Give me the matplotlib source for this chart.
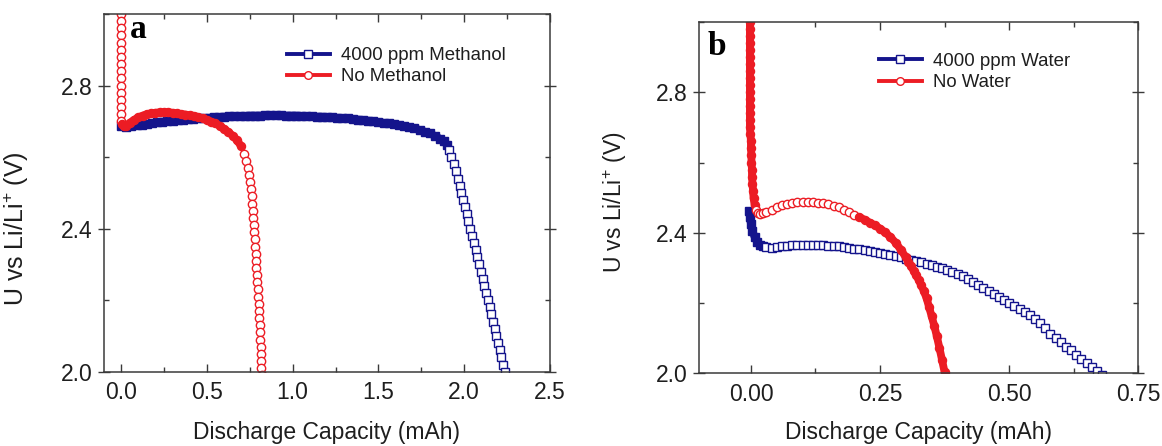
import matplotlib
matplotlib.use("Agg")
import matplotlib.pyplot as plt
from matplotlib.lines import Line2D
from matplotlib.ticker import MultipleLocator

plt.rcParams['font.family'] = ['Liberation Sans', 'DejaVu Sans']
plt.rcParams['mathtext.fontset'] = 'custom'
plt.rcParams['mathtext.rm'] = 'Liberation Sans'
plt.rcParams['mathtext.default'] = 'regular'

# ---------------- panel a: methanol ----------------
# 4000 ppm methanol: plateau, then the final drop
a_meoh_flat_x = [0.00, 0.03, 0.06, 0.09, 0.12, 0.15, 0.18, 0.21, 0.24, 0.27,
                 0.30, 0.33, 0.36, 0.39, 0.42, 0.45, 0.48, 0.51, 0.54, 0.57,
                 0.60, 0.63, 0.66, 0.69, 0.72, 0.75, 0.78, 0.81, 0.84, 0.87,
                 0.90, 0.93, 0.96, 0.99, 1.02, 1.05, 1.08, 1.11, 1.14, 1.17,
                 1.20, 1.23, 1.26, 1.29, 1.32, 1.35, 1.38, 1.41, 1.44, 1.47,
                 1.50, 1.53, 1.56, 1.59, 1.62, 1.65, 1.68, 1.71, 1.74, 1.77,
                 1.80, 1.83, 1.86, 1.88, 1.90]
a_meoh_flat_v = [2.686, 2.684, 2.686, 2.689, 2.691, 2.693, 2.695, 2.697, 2.699, 2.700,
                 2.702, 2.703, 2.704, 2.706, 2.707, 2.708, 2.709, 2.710, 2.711, 2.712,
                 2.713, 2.714, 2.714, 2.715, 2.715, 2.716, 2.716, 2.716, 2.717, 2.717,
                 2.717, 2.717, 2.716, 2.716, 2.716, 2.715, 2.715, 2.714, 2.713, 2.713,
                 2.712, 2.711, 2.710, 2.709, 2.708, 2.706, 2.705, 2.703, 2.702, 2.700,
                 2.698, 2.696, 2.694, 2.692, 2.690, 2.687, 2.684, 2.680, 2.676, 2.671,
                 2.666, 2.659, 2.651, 2.644, 2.634]
a_meoh_drop_x = [1.912, 1.925, 1.940, 1.952, 1.962, 1.973, 1.983, 1.994, 2.004, 2.014,
                 2.025, 2.035, 2.046, 2.056, 2.066, 2.077, 2.087, 2.097, 2.108, 2.118,
                 2.129, 2.139, 2.149, 2.159, 2.169, 2.179, 2.188, 2.198, 2.207, 2.217,
                 2.228, 2.240, 2.252]
a_meoh_drop_v = [2.62, 2.60, 2.58, 2.56, 2.54, 2.52, 2.50, 2.48, 2.46, 2.44,
                 2.42, 2.40, 2.38, 2.36, 2.34, 2.32, 2.30, 2.28, 2.26, 2.24,
                 2.22, 2.20, 2.18, 2.16, 2.14, 2.12, 2.10, 2.08, 2.06, 2.04,
                 2.02, 2.00, 1.98]

# no methanol: initial spike, plateau, final drop
a_none_spike_x = [0.000, 0.000, 0.000, 0.000, 0.000, 0.000, 0.000, 0.000, 0.000, 0.000,
                  0.000, 0.000, 0.000, 0.000, 0.000, 0.000, 0.001, 0.002]
a_none_spike_v = [3.04, 3.02, 3.00, 2.98, 2.96, 2.94, 2.92, 2.90, 2.88, 2.86,
                  2.84, 2.82, 2.80, 2.78, 2.76, 2.74, 2.72, 2.70]
a_none_flat_x = [0.005, 0.015, 0.030, 0.050, 0.075, 0.100, 0.125, 0.150, 0.175, 0.200,
                 0.225, 0.250, 0.275, 0.300, 0.325, 0.350, 0.375, 0.400, 0.425, 0.450,
                 0.475, 0.500, 0.525, 0.550, 0.575, 0.600, 0.625, 0.650, 0.675, 0.700]
a_none_flat_v = [2.692, 2.686, 2.688, 2.696, 2.704, 2.711, 2.716, 2.720, 2.722, 2.724,
                 2.725, 2.725, 2.725, 2.724, 2.722, 2.720, 2.719, 2.717, 2.715, 2.712,
                 2.708, 2.704, 2.699, 2.694, 2.687, 2.679, 2.670, 2.660, 2.647, 2.630]
a_none_drop_x = [0.716, 0.730, 0.738, 0.745, 0.751, 0.756, 0.760, 0.763, 0.766, 0.769,
                 0.772, 0.775, 0.778, 0.781, 0.784, 0.786, 0.789, 0.792, 0.794, 0.797,
                 0.799, 0.802, 0.804, 0.806, 0.808, 0.810, 0.812, 0.814, 0.815, 0.817,
                 0.818, 0.820]
a_none_drop_v = [2.61, 2.59, 2.57, 2.55, 2.53, 2.51, 2.49, 2.47, 2.45, 2.43,
                 2.41, 2.39, 2.37, 2.35, 2.33, 2.31, 2.29, 2.27, 2.25, 2.23,
                 2.21, 2.19, 2.17, 2.15, 2.13, 2.11, 2.09, 2.07, 2.05, 2.03,
                 2.01, 1.99]

# ---------------- panel b: water ----------------
b_water_knee_x = [-0.003, -0.002, 0.000, 0.003, 0.007, 0.012, 0.018, 0.024]
b_water_knee_v = [2.462, 2.445, 2.425, 2.405, 2.388, 2.375, 2.366, 2.361]
b_water_flat_x = [0.03, 0.04, 0.05, 0.06, 0.07, 0.08, 0.09, 0.10, 0.11, 0.12,
                  0.13, 0.14, 0.15, 0.16, 0.17, 0.18, 0.19, 0.20, 0.21, 0.22,
                  0.23, 0.24, 0.25, 0.26, 0.27, 0.28, 0.29, 0.30,
                  0.31, 0.32, 0.33, 0.34, 0.35, 0.36, 0.37, 0.38, 0.39, 0.40,
                  0.41, 0.42, 0.43, 0.44, 0.45, 0.46, 0.47, 0.48, 0.49, 0.50,
                  0.51, 0.52, 0.53, 0.54, 0.55, 0.56, 0.57, 0.58, 0.59, 0.60,
                  0.61, 0.62, 0.63, 0.64, 0.65, 0.66, 0.67, 0.68]
b_water_flat_v = [2.359, 2.358, 2.359, 2.361, 2.362, 2.364, 2.365, 2.365, 2.365, 2.365,
                  2.365, 2.364, 2.363, 2.362, 2.361, 2.359, 2.357, 2.355, 2.353, 2.351,
                  2.349, 2.346, 2.343, 2.340, 2.337, 2.334, 2.330, 2.325,
                  2.322, 2.319, 2.316, 2.312, 2.308, 2.304, 2.300, 2.295, 2.289, 2.283,
                  2.276, 2.269, 2.261, 2.252, 2.244, 2.235, 2.227, 2.218, 2.209, 2.200,
                  2.192, 2.183, 2.174, 2.165, 2.155, 2.143, 2.128, 2.113, 2.100, 2.088,
                  2.076, 2.065, 2.053, 2.042, 2.030, 2.018, 2.006, 1.995]

b_none_spike_x = [-0.002, -0.002, -0.002, -0.002, -0.002, -0.002, -0.002, -0.002, -0.002, -0.002,
                  -0.002, -0.002, -0.002, -0.002, -0.002, -0.002, -0.002, -0.002,
                  -0.001, 0.000, 0.000, 0.001, 0.001, 0.002, 0.002, 0.003, 0.004, 0.005, 0.007]
b_none_spike_v = [3.04, 3.02, 3.00, 2.98, 2.96, 2.94, 2.92, 2.90, 2.88, 2.86,
                  2.84, 2.82, 2.80, 2.78, 2.76, 2.74, 2.72, 2.70,
                  2.68, 2.66, 2.64, 2.62, 2.60, 2.58, 2.56, 2.54, 2.52, 2.50, 2.48]
b_none_hump_x = [0.010, 0.013, 0.018, 0.024,
                 0.03, 0.04, 0.05, 0.06, 0.07, 0.08, 0.09, 0.10, 0.11, 0.12,
                 0.13, 0.14, 0.15, 0.16, 0.17, 0.18, 0.19, 0.20]
b_none_hump_v = [2.465, 2.456, 2.453, 2.455,
                 2.459, 2.465, 2.472, 2.478, 2.482, 2.485, 2.487, 2.488, 2.488, 2.488,
                 2.486, 2.484, 2.481, 2.477, 2.472, 2.466, 2.459, 2.452]
b_none_drop_x = [0.21, 0.22, 0.23, 0.24, 0.25, 0.26, 0.27, 0.28, 0.29, 0.30,
                 0.305, 0.310, 0.315, 0.320, 0.325, 0.330, 0.335, 0.340, 0.345, 0.350,
                 0.355, 0.360, 0.365, 0.370, 0.375, 0.380]
b_none_drop_v = [2.445, 2.437, 2.429, 2.421, 2.412, 2.401, 2.388, 2.372, 2.352, 2.330,
                 2.318, 2.305, 2.292, 2.279, 2.265, 2.250, 2.233, 2.214, 2.188, 2.162,
                 2.135, 2.105, 2.072, 2.038, 2.003, 1.968]

labels_a = ["4000 ppm Methanol", "No Methanol"]
labels_b = ["4000 ppm Water", "No Water"]

BLUE = "#14148c"
RED = "#ec1c24"
SPINE = "#3a3a3a"
TEXT = "#1e1e1e"

fig = plt.figure(figsize=(11.62, 4.46), dpi=100)
ax_a = fig.add_axes([0.0895, 0.1666, 0.3838, 0.802])
ax_b = fig.add_axes([0.6018, 0.1630, 0.3778, 0.7877])


def draw_curve(ax, segments, color, marker):
    """Line + symbol curve; dense stretches are drawn as a solid band,
    sparse stretches show the open symbols."""
    all_x = [x for seg in segments for x in seg[0]]
    all_v = [v for seg in segments for v in seg[1]]
    ax.plot(all_x, all_v, color=color, lw=1.2, zorder=2)
    for x, v, solid in segments:
        if solid:
            ax.plot(x, v, color=color, lw=5.6, marker=marker, ms=5.8,
                    mfc=color, mec=color, mew=1.0, solid_capstyle='round', zorder=2)
        else:
            ax.plot(x, v, ls='none', marker=marker, ms=6.0,
                    mfc='white', mec=color, mew=1.0, zorder=2)


def style_axes(ax, xlim, xmaj, xmin, ylabel_size):
    ax.set_xlim(*xlim)
    ax.set_ylim(2.0, 3.0)
    ax.xaxis.set_major_locator(MultipleLocator(xmaj))
    ax.xaxis.set_minor_locator(MultipleLocator(xmin))
    ax.yaxis.set_major_locator(MultipleLocator(0.4))
    ax.yaxis.set_minor_locator(MultipleLocator(0.2))
    ax.tick_params(which='both', direction='in', top=True, right=True,
                   color=SPINE, width=1.0, labelsize=16.5, labelcolor=TEXT)
    ax.tick_params(which='major', length=6, pad=7)
    ax.tick_params(which='minor', length=3.5)
    ax.tick_params(axis='y', which='major', direction='inout', length=9, pad=4)
    for s in ax.spines.values():
        s.set_color(SPINE)
        s.set_linewidth(1.1)
    ax.set_xlabel("Discharge Capacity (mAh)", fontsize=16.5, color=TEXT)
    ax.xaxis.label.set_va('baseline')
    ax.set_ylabel("U vs Li/Li$^{+}$ (V)", fontsize=ylabel_size, color=TEXT)


def add_legend(ax, labels, anchor):
    handles = [
        Line2D([], [], color=BLUE, lw=2.8, marker='s', ms=5.5, mfc='white', mec=BLUE, mew=1.0),
        Line2D([], [], color=RED, lw=2.8, marker='o', ms=5.5, mfc='white', mec=RED, mew=1.0),
    ]
    ax.legend(handles, labels, loc='upper left', bbox_to_anchor=anchor, frameon=False,
              fontsize=13.4, handlelength=2.3, handletextpad=0.6, labelspacing=0.22,
              borderpad=0.0, borderaxespad=0.0, labelcolor=TEXT)


# panel a
draw_curve(ax_a, [(a_meoh_flat_x, a_meoh_flat_v, True),
                  (a_meoh_drop_x, a_meoh_drop_v, False)], BLUE, 's')
draw_curve(ax_a, [(a_none_spike_x, a_none_spike_v, False),
                  (a_none_flat_x, a_none_flat_v, True),
                  (a_none_drop_x, a_none_drop_v, False)], RED, 'o')
style_axes(ax_a, (-0.1, 2.5), 0.5, 0.25, 18)
ax_a.xaxis.set_label_coords(0.5, -0.189)
ax_a.yaxis.set_label_coords(-0.164, 0.40)
add_legend(ax_a, labels_a, (0.41, 0.907))
ax_a.text(0.058, 0.933, "a", transform=ax_a.transAxes, family='Liberation Serif',
          fontweight='bold', fontsize=24, ha='left', va='baseline')

# panel b
draw_curve(ax_b, [(b_water_knee_x, b_water_knee_v, True),
                  (b_water_flat_x, b_water_flat_v, False)], BLUE, 's')
draw_curve(ax_b, [(b_none_spike_x, b_none_spike_v, True),
                  (b_none_hump_x, b_none_hump_v, False),
                  (b_none_drop_x, b_none_drop_v, True)], RED, 'o')
style_axes(ax_b, (-0.1, 0.75), 0.25, 0.125, 16.5)
ax_b.xaxis.set_label_coords(0.5, -0.188)
ax_b.yaxis.set_label_coords(-0.160, 0.488)
add_legend(ax_b, labels_b, (0.409, 0.912))
ax_b.text(0.018, 0.906, "b", transform=ax_b.transAxes, family='Liberation Serif',
          fontweight='bold', fontsize=24, ha='left', va='baseline')

fig.savefig("out.png", dpi=100)
